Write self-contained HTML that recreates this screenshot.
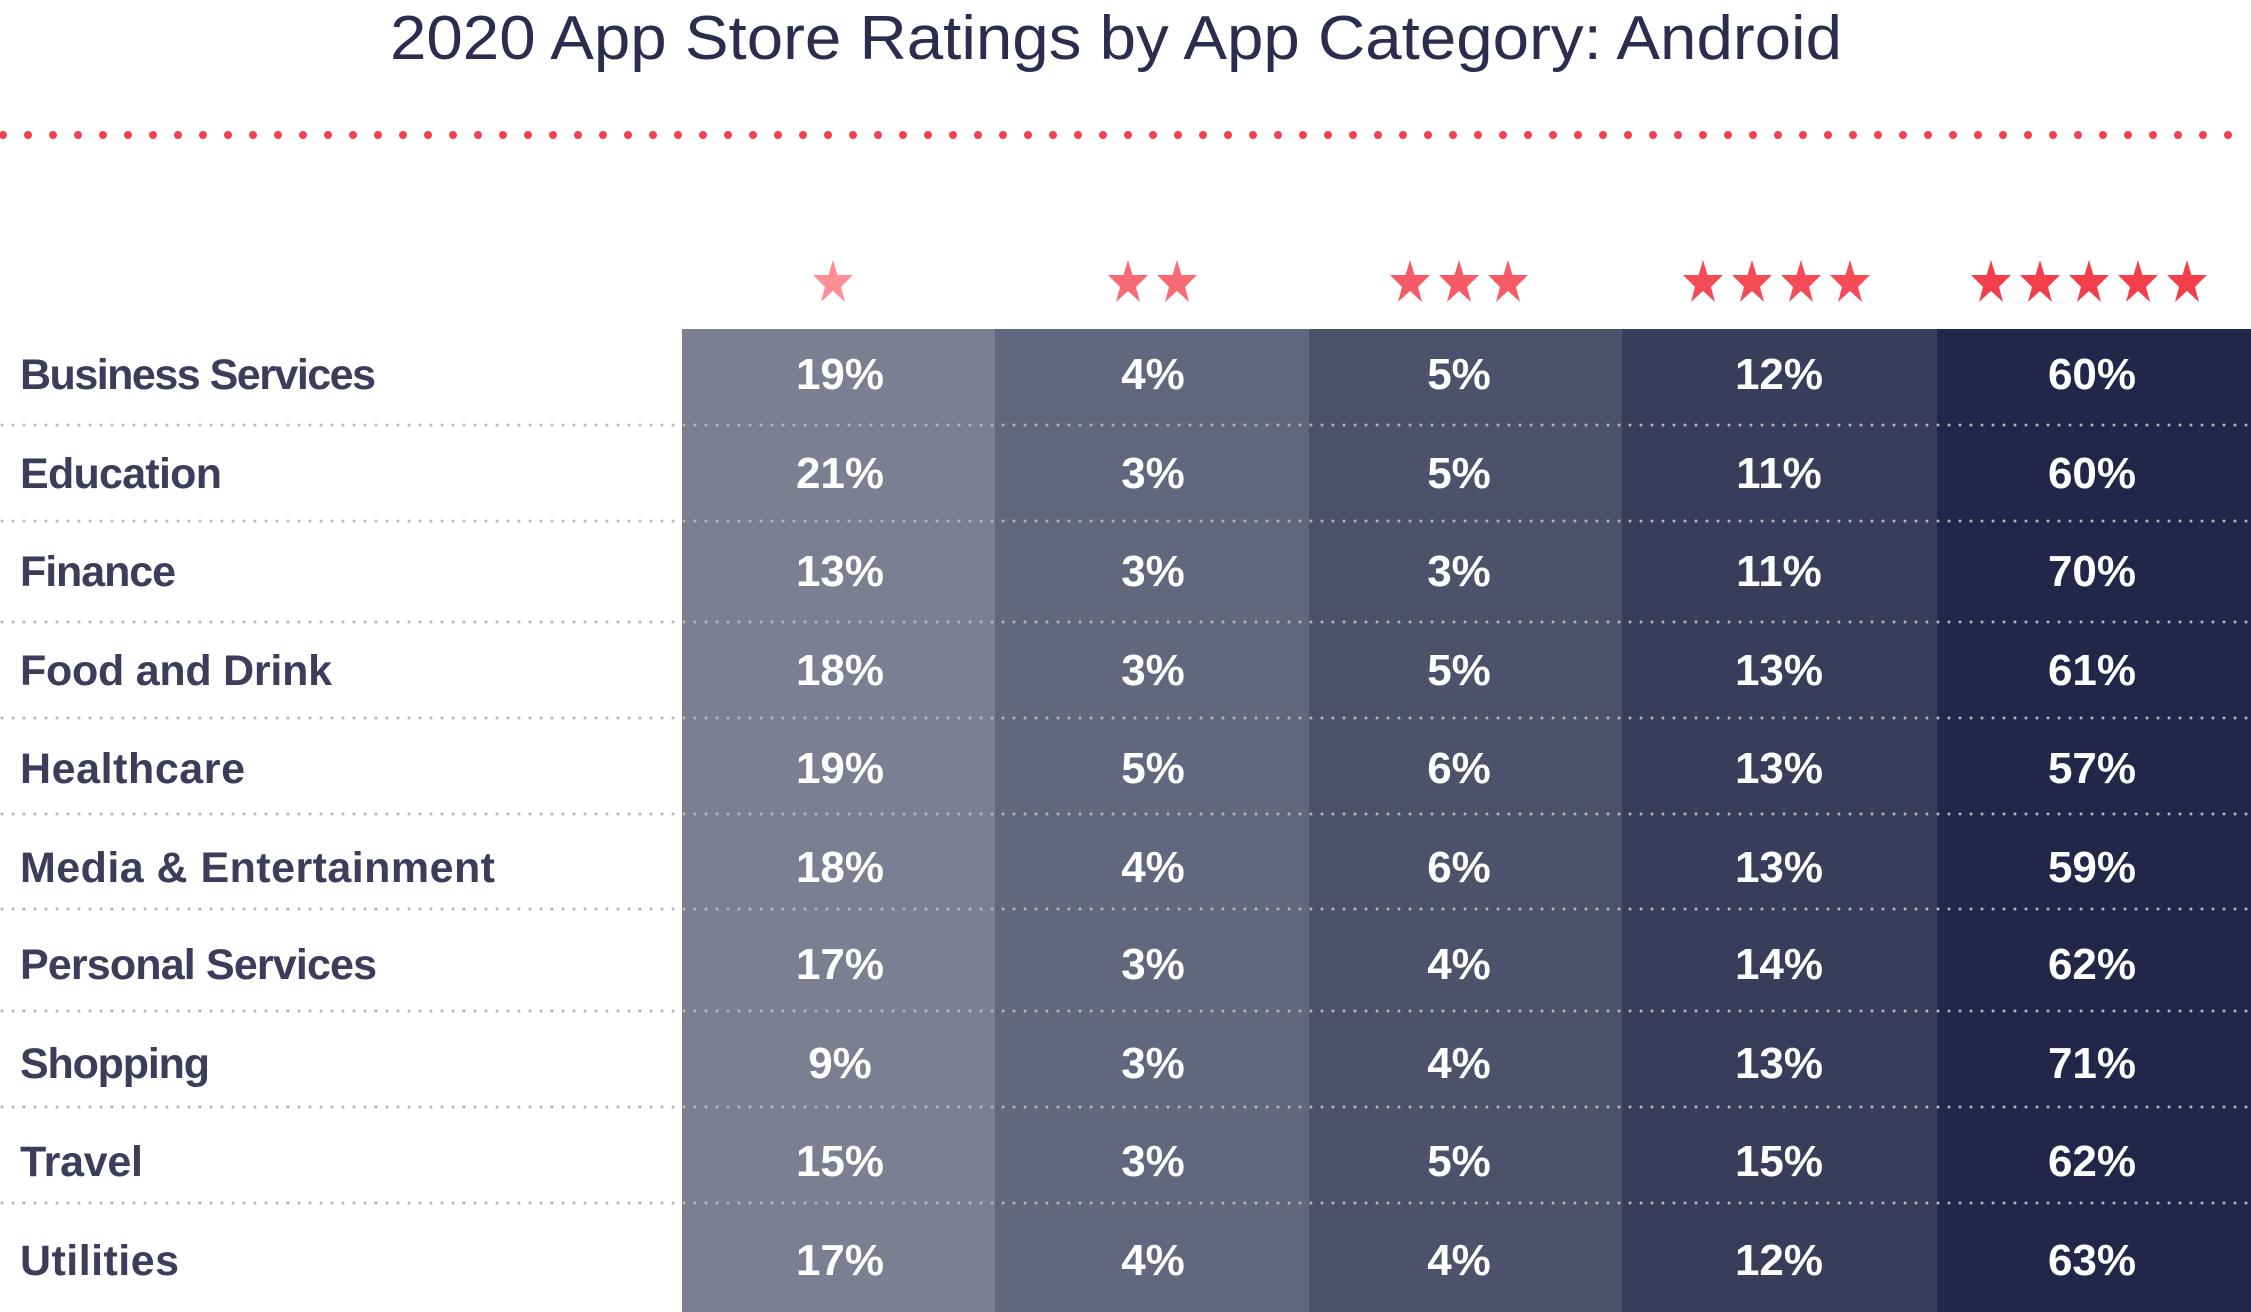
<!DOCTYPE html>
<html><head><meta charset="utf-8"><style>html,body{margin:0;padding:0;background:#fff}svg{display:block}</style></head>
<body>
<svg width="2251" height="1312" viewBox="0 0 2251 1312" xmlns="http://www.w3.org/2000/svg">
<defs>
<symbol id="st" viewBox="-20 -21 40 42"><polygon points="0,-21 4.5,-6 20,-6 8,6 12,21 0,10 -12,21 -8,6 -20,-6 -4.5,-6"/></symbol>
</defs>
<text x="1116" y="59" text-anchor="middle" font-family="Liberation Sans, sans-serif" font-size="62" fill="#2a2d4e" textLength="1452" lengthAdjust="spacingAndGlyphs">2020 App Store Ratings by App Category: Android</text>
<line x1="3" y1="135" x2="2251" y2="135" stroke="#f0414f" stroke-width="8" stroke-linecap="round" stroke-dasharray="0 25"/>
<rect x="682" y="329" width="313" height="983" fill="#7b7f91"/>
<rect x="995" y="329" width="314" height="983" fill="#63677d"/>
<rect x="1309" y="329" width="313" height="983" fill="#4d5169"/>
<rect x="1622" y="329" width="315" height="983" fill="#393d5a"/>
<rect x="1937" y="329" width="314" height="983" fill="#22274a"/>
<g fill="#ff8f97"><use href="#st" x="813" y="260" width="40" height="42"/></g>
<g fill="#f86a74"><use href="#st" x="1108" y="260" width="40" height="42"/><use href="#st" x="1157" y="260" width="40" height="42"/></g>
<g fill="#f65a66"><use href="#st" x="1390" y="260" width="40" height="42"/><use href="#st" x="1439" y="260" width="40" height="42"/><use href="#st" x="1488" y="260" width="40" height="42"/></g>
<g fill="#f44b57"><use href="#st" x="1683" y="260" width="40" height="42"/><use href="#st" x="1732" y="260" width="40" height="42"/><use href="#st" x="1781" y="260" width="40" height="42"/><use href="#st" x="1830" y="260" width="40" height="42"/></g>
<g fill="#f33f4c"><use href="#st" x="1971" y="260" width="40" height="42"/><use href="#st" x="2020" y="260" width="40" height="42"/><use href="#st" x="2069" y="260" width="40" height="42"/><use href="#st" x="2118" y="260" width="40" height="42"/><use href="#st" x="2167" y="260" width="40" height="42"/></g>
<g stroke="#b4b5bb" stroke-width="3" stroke-linecap="round" stroke-dasharray="0 11">
<line x1="2" y1="425" x2="2251" y2="425"/><line x1="2" y1="521" x2="2251" y2="521"/><line x1="2" y1="622" x2="2251" y2="622"/><line x1="2" y1="718" x2="2251" y2="718"/><line x1="2" y1="814" x2="2251" y2="814"/><line x1="2" y1="909" x2="2251" y2="909"/><line x1="2" y1="1011" x2="2251" y2="1011"/><line x1="2" y1="1107" x2="2251" y2="1107"/><line x1="2" y1="1203" x2="2251" y2="1203"/>
</g>
<g font-family="Liberation Sans, sans-serif" font-weight="bold" font-size="43" fill="#3b3d5a" lengthAdjust="spacingAndGlyphs">
<text x="20" y="389" textLength="356">Business Services</text>
<text x="20" y="488" textLength="202">Education</text>
<text x="20" y="586" textLength="156">Finance</text>
<text x="20" y="685" textLength="312">Food and Drink</text>
<text x="20" y="783" textLength="225">Healthcare</text>
<text x="20" y="882" textLength="475">Media &amp; Entertainment</text>
<text x="20" y="979" textLength="357">Personal Services</text>
<text x="20" y="1078" textLength="190">Shopping</text>
<text x="20" y="1176" textLength="123">Travel</text>
<text x="20" y="1275" textLength="159">Utilities</text>
</g>
<g font-family="Liberation Sans, sans-serif" font-weight="bold" font-size="44" fill="#fff" text-anchor="middle">
<text x="840" y="389">19%</text><text x="1153" y="389">4%</text><text x="1459" y="389">5%</text><text x="1779" y="389">12%</text><text x="2092" y="389">60%</text>
<text x="840" y="488">21%</text><text x="1153" y="488">3%</text><text x="1459" y="488">5%</text><text x="1779" y="488">11%</text><text x="2092" y="488">60%</text>
<text x="840" y="586">13%</text><text x="1153" y="586">3%</text><text x="1459" y="586">3%</text><text x="1779" y="586">11%</text><text x="2092" y="586">70%</text>
<text x="840" y="685">18%</text><text x="1153" y="685">3%</text><text x="1459" y="685">5%</text><text x="1779" y="685">13%</text><text x="2092" y="685">61%</text>
<text x="840" y="783">19%</text><text x="1153" y="783">5%</text><text x="1459" y="783">6%</text><text x="1779" y="783">13%</text><text x="2092" y="783">57%</text>
<text x="840" y="882">18%</text><text x="1153" y="882">4%</text><text x="1459" y="882">6%</text><text x="1779" y="882">13%</text><text x="2092" y="882">59%</text>
<text x="840" y="979">17%</text><text x="1153" y="979">3%</text><text x="1459" y="979">4%</text><text x="1779" y="979">14%</text><text x="2092" y="979">62%</text>
<text x="840" y="1078">9%</text><text x="1153" y="1078">3%</text><text x="1459" y="1078">4%</text><text x="1779" y="1078">13%</text><text x="2092" y="1078">71%</text>
<text x="840" y="1176">15%</text><text x="1153" y="1176">3%</text><text x="1459" y="1176">5%</text><text x="1779" y="1176">15%</text><text x="2092" y="1176">62%</text>
<text x="840" y="1275">17%</text><text x="1153" y="1275">4%</text><text x="1459" y="1275">4%</text><text x="1779" y="1275">12%</text><text x="2092" y="1275">63%</text>
</g>
</svg>
</body></html>
